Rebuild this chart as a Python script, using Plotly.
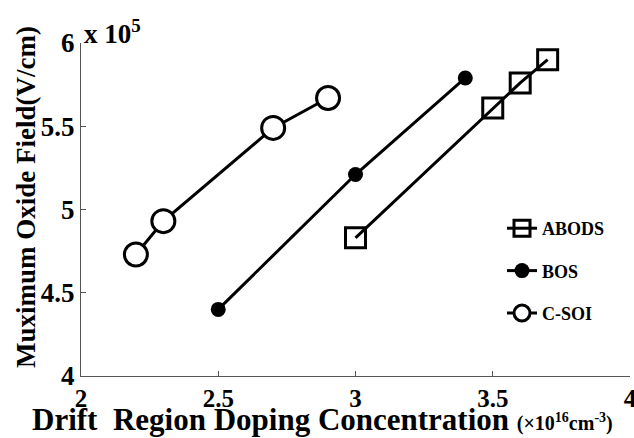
import plotly.graph_objects as go

# Data (field in units of 1e5 V/cm, doping in 1e16 cm^-3)
abods_x = [3.0, 3.5, 3.6, 3.7]
abods_y = [4.83, 5.61, 5.76, 5.90]
bos_x = [2.5, 3.0, 3.4]
bos_y = [4.40, 5.21, 5.79]
csoi_x = [2.2, 2.3, 2.7, 2.9]
csoi_y = [4.73, 4.93, 5.49, 5.67]

x_ticks = [2, 2.5, 3, 3.5, 4]
x_ticklabels = ["<b>2</b>", "<b>2.5</b>", "<b>3</b>", "<b>3.5</b>", "<b>4</b>"]
y_ticks = [4, 4.5, 5, 5.5, 6]
y_ticklabels = ["<b>4</b>", "<b>4.5</b>", "<b>5</b>", "<b>5.5</b>", "<b>6</b>"]

FONT = "'Liberation Serif', 'Times New Roman', serif"

fig = go.Figure()
fig.add_trace(go.Scatter(
    x=abods_x, y=abods_y, name="<b>ABODS</b>", mode="lines+markers", legendgroup="a",
    line=dict(color="black", width=3),
    marker=dict(symbol="square-open", size=20, color="black", line=dict(width=3, color="black")),
))
fig.add_trace(go.Scatter(
    x=bos_x, y=bos_y, name="<b>BOS</b>", mode="lines+markers", legendgroup="b",
    line=dict(color="black", width=3),
    marker=dict(symbol="circle", size=15, color="black"),
))
fig.add_trace(go.Scatter(
    x=csoi_x, y=csoi_y, name="<b>C-SOI</b>", mode="lines+markers", legendgroup="c",
    line=dict(color="black", width=3),
    marker=dict(symbol="circle", size=23, color="white", line=dict(width=3, color="black")),
))

fig.update_layout(
    width=634, height=438,
    margin=dict(l=81, r=4, t=43, b=62),
    paper_bgcolor="white", plot_bgcolor="white",
    font=dict(family=FONT, color="black"),
    showlegend=True,
    legend=dict(x=(502 - 81) / 549, y=(376 - 210) / 333, xanchor="left", yanchor="top",
                font=dict(size=18, family=FONT, color="black"),
                bgcolor="rgba(0,0,0,0)", tracegroupgap=16, itemwidth=30),
    xaxis=dict(range=[2, 4], tickvals=x_ticks, ticktext=x_ticklabels, automargin=False,
               showgrid=False, zeroline=False, showline=True, linecolor="#555555", linewidth=1,
               ticks="inside", ticklen=5, tickcolor="#555555", ticklabeloverflow="allow",
               tickfont=dict(size=25, family=FONT, color="black")),
    yaxis=dict(range=[4, 6], tickvals=y_ticks, ticktext=y_ticklabels, automargin=False,
               showgrid=False, zeroline=False, showline=True, linecolor="#555555", linewidth=1,
               ticks="inside", ticklen=5, tickcolor="#555555", ticklabeloverflow="allow",
               tickfont=dict(size=27, family=FONT, color="black")),
    annotations=[
        dict(text="<b>Muximum Oxide Field(V/cm)</b>", xref="paper", yref="paper",
             x=(26 - 81) / 549, y=(376 - 197) / 333, xanchor="center", yanchor="middle",
             textangle=-90, showarrow=False,
             font=dict(size=27, family=FONT, color="black")),
        dict(text="<b>Drift  Region Doping Concentration <span style='font-size:20px'>(×10<sup>16</sup>cm<sup>-3</sup>)</span></b>",
             xref="paper", yref="paper",
             x=(322 - 81) / 549, y=(376 - 420) / 333, xanchor="center", yanchor="middle",
             showarrow=False,
             font=dict(size=31, family=FONT, color="black")),
        dict(text="<b>x 10<sup>5</sup></b>", xref="paper", yref="paper",
             x=(82 - 81) / 549, y=(376 - 32) / 333, xanchor="left", yanchor="middle",
             showarrow=False,
             font=dict(size=27, family=FONT, color="black")),
    ],
)

fig.write_html("out.html")
